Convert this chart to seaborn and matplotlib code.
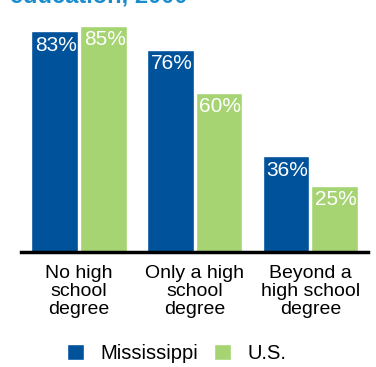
import matplotlib
matplotlib.use("Agg")
import matplotlib.pyplot as plt
import seaborn as sns
import pandas as pd

# values
categories = ["No high\nschool\ndegree", "Only a high\nschool\ndegree", "Beyond a\nhigh school\ndegree"]
mississippi = [83, 76, 36]
us = [85, 60, 25]
series = ["Mississippi", "U.S."]

df = pd.DataFrame({
    "cat": categories * 2,
    "val": mississippi + us,
    "who": [series[0]] * 3 + [series[1]] * 3,
})

sns.set_style("white")
plt.rcParams["font.family"] = ["Liberation Sans", "DejaVu Sans"]
plt.rcParams["text.color"] = "black"

fig = plt.figure(figsize=(3.76, 3.67), dpi=100)
ax = fig.add_axes([0.056, 0.313, 0.923, 0.652])

pal = {"Mississippi": "#00529b", "U.S.": "#a6d472"}
sns.barplot(data=df, x="cat", y="val", hue="who", palette=pal,
            width=0.84, gap=0.04, saturation=1, ax=ax)

for cont in ax.containers:
    for bar in cont:
        h = bar.get_height()
        ax.annotate(f"{h:.0f}%", xy=(bar.get_x() + bar.get_width() / 2, h),
                    xytext=(1, -3), textcoords="offset points",
                    ha="center", va="top", color="white", fontsize=15)

ax.set_xlim(-0.5, 2.5)
ax.set_ylim(0, 90)
ax.set_xlabel("")
ax.set_ylabel("")
ax.set_yticks([])
ax.tick_params(axis="x", length=0, pad=9, labelsize=14, labelcolor="black")
for lab in ax.get_xticklabels():
    lab.set_linespacing(1.08)
for s in ["top", "right", "left"]:
    ax.spines[s].set_visible(False)
ax.spines["bottom"].set_linewidth(2.5)
ax.spines["bottom"].set_color("black")

handles, labels = ax.get_legend_handles_labels()
ax.legend_.remove()
fig.legend(handles, labels, loc="center", bbox_to_anchor=(0.47, 0.038),
           ncol=2, frameon=False, fontsize=14.5, handlelength=0.85,
           handleheight=0.85, handletextpad=0.8, columnspacing=0.8)

# clipped title at the very top
fig.text(0.027, 1 - 3 / 367, "education, 2000", color="#1a8ccc",
         fontsize=17, fontweight="bold", va="baseline", ha="left")

fig.savefig("out.png", dpi=100)
